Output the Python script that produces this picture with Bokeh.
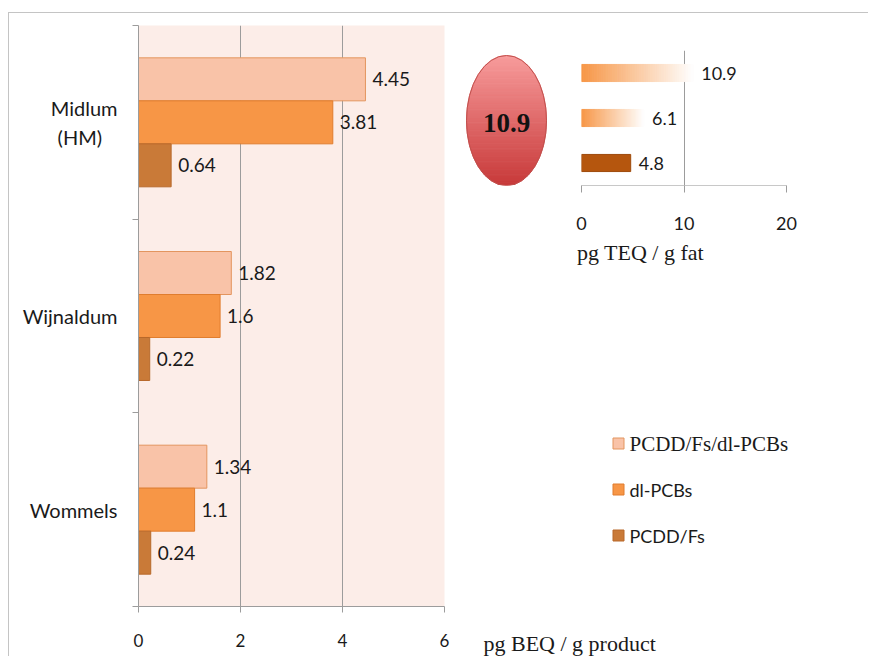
import numpy as np
from bokeh.plotting import figure
from bokeh.models import Range1d, FixedTicker
from bokeh.layouts import row, column
from bokeh.embed import file_html
from bokeh.resources import INLINE
from bokeh.core.properties import value

# ---------------- data ----------------
sites = ["Midlum\n(HM)", "Wijnaldum", "Wommels"]
series = ["PCDD/Fs/dl-PCBs", "dl-PCBs", "PCDD/Fs"]
beq_total = [4.45, 1.82, 1.34]
beq_dlpcb = [3.81, 1.6, 1.1]
beq_pcddf = [0.64, 0.22, 0.24]
main_ticks = [0, 2, 4, 6]

teq_series = ["PCDD/Fs/dl-PCBs", "dl-PCBs", "PCDD/Fs"]
teq_values = [10.9, 6.1, 4.8]
teq_highlight = "10.9"
inset_ticks = [0, 10, 20]

main_axis_label = "pg BEQ / g product"
inset_axis_label = "pg TEQ / g fat"

# ---------------- styles ----------------
SANS = "Lato"
SERIF = "Liberation Serif"
fills = ["#F9C3A8", "#F79646", "#C97A38"]
lines = ["#E3955F", "#E07D2E", "#B8692B"]
GRID = "#9c9c9c"
TXT = "#1a1a1a"


def centered_lines(label):
    # visually centre multi-line category labels (pad the shorter line with no-break spaces)
    parts = label.split("\n")
    if len(parts) == 1:
        return label
    longest = max(len(s) for s in parts)
    return "\n".join(s + "\u00a0" * int(round((longest - len(s)) * 1.6)) for s in parts)


# ---------------- main chart ----------------
p = figure(width=451, height=643, x_range=Range1d(0, 6), y_range=Range1d(0, 3),
           output_backend="svg", toolbar_location=None,
           min_border_left=129, min_border_right=16, min_border_top=12, min_border_bottom=50)
p.background_fill_color = "#FCEDE8"
p.border_fill_color = "white"
p.outline_line_color = None
p.ygrid.visible = False
p.xgrid.ticker = FixedTicker(ticks=main_ticks)
p.xgrid.grid_line_color = GRID
p.xgrid.grid_line_width = 1

p.xaxis.ticker = FixedTicker(ticks=main_ticks)
p.xaxis.axis_line_color = GRID
p.xaxis.major_tick_line_color = GRID
p.xaxis.major_tick_out = 6
p.xaxis.major_tick_in = 0
p.xaxis.minor_tick_line_color = None
p.xaxis.major_label_standoff = 21
p.xaxis.major_label_text_font = SANS
p.xaxis.major_label_text_font_size = "17px"
p.xaxis.major_label_text_color = TXT

n = len(sites)
centers = [n - i - 0.5 for i in range(n)]
bounds = [float(i) for i in range(n + 1)]
p.yaxis.ticker = FixedTicker(ticks=centers, minor_ticks=bounds)
p.yaxis.major_label_overrides = {c: centered_lines(s) for c, s in zip(centers, sites)}
p.yaxis.axis_line_color = GRID
p.yaxis.major_tick_out = 0
p.yaxis.major_tick_in = 0
p.yaxis.minor_tick_out = 6
p.yaxis.minor_tick_in = 0
p.yaxis.minor_tick_line_color = GRID
p.yaxis.major_label_standoff = 15
p.yaxis.major_label_text_font = SANS
p.yaxis.major_label_text_font_size = "20px"
p.yaxis.major_label_text_color = TXT
p.yaxis.major_label_text_align = "center"

bar_h = 0.222
offsets = [bar_h, 0.0, -bar_h]
for vals, off, fc, lc, name in zip([beq_total, beq_dlpcb, beq_pcddf], offsets, fills, lines, series):
    ys = [c + off for c in centers]
    p.hbar(y=ys, left=0, right=vals, height=bar_h, fill_color=fc, line_color=lc, line_width=1)
    p.text(x=vals, y=ys, text=[str(v) for v in vals], x_offset=7, text_baseline="middle",
           text_align="left", text_font=value(SANS), text_font_size="19px", text_color=TXT)

# ---------------- inset chart ----------------
IN_TOP, IN_BOT = 37, 55
q = figure(width=298, height=227, x_range=Range1d(0, 20), y_range=Range1d(0, 3),
           output_backend="svg", toolbar_location=None,
           min_border_left=11, min_border_right=82, min_border_top=IN_TOP, min_border_bottom=IN_BOT)
q.outline_line_color = None
q.yaxis.visible = False
q.ygrid.visible = False
q.xgrid.ticker = FixedTicker(ticks=inset_ticks)
q.xgrid.grid_line_color = GRID
q.xaxis.ticker = FixedTicker(ticks=inset_ticks)
q.xaxis.axis_line_color = "#c8c8c8"
q.xaxis.major_tick_line_color = GRID
q.xaxis.major_tick_out = 7
q.xaxis.major_tick_in = 0
q.xaxis.minor_tick_line_color = None
q.xaxis.major_label_standoff = 24
q.xaxis.major_label_text_font = SANS
q.xaxis.major_label_text_font_size = "18px"
q.xaxis.major_label_text_color = TXT

m = len(teq_values)
icenters = [m - i - 0.5 for i in range(m)]
ibar_h = 0.38
grad_start = np.array([247, 150, 70])
grad_end = np.array([255, 255, 255])
NG = 50
for i, (v, yc) in enumerate(zip(teq_values, icenters)):
    if i < 2:
        lefts = [v * j / NG for j in range(NG)]
        rights = [v * (j + 1) / NG for j in range(NG)]
        gc = []
        for j in range(NG):
            f = (j + 0.5) / NG
            c = (grad_start * (1 - f) + grad_end * f).astype(int)
            gc.append("#%02x%02x%02x" % tuple(c))
        q.hbar(y=[yc] * NG, left=lefts, right=rights, height=ibar_h, fill_color=gc,
               line_color=gc, line_width=1)
    else:
        q.hbar(y=[yc], left=0, right=[v], height=ibar_h, fill_color="#B5560E", line_color="#9E4A0C")
q.text(x=teq_values, y=icenters, text=[str(v) for v in teq_values], x_offset=8,
       text_baseline="middle", text_font=value(SANS), text_font_size="18px", text_color=TXT)

# ---------------- ellipse callout (frame aligned with inset frame) ----------------
e = figure(width=110, height=227, x_range=Range1d(0, 110), y_range=Range1d(135, 0),
           output_backend="svg", toolbar_location=None,
           min_border_left=0, min_border_right=0, min_border_top=IN_TOP, min_border_bottom=IN_BOT)
e.axis.visible = False
e.grid.visible = False
e.outline_line_color = None
ecx, ecy, ea, eb = 46.0, 70.0, 40.0, 65.0
N = 80
top_c = np.array([248, 156, 156])
bot_c = np.array([200, 58, 58])
xs, ys, cols = [], [], []
for k in range(N):
    t0 = -1 + 2 * k / N
    t1 = -1 + 2 * (k + 1) / N
    tt = np.linspace(t0, t1, 6)
    hw = ea * np.sqrt(np.clip(1 - tt ** 2, 0, 1))
    px = list(ecx - hw) + list((ecx + hw)[::-1])
    py = list(ecy + eb * tt) + list((ecy + eb * tt)[::-1])
    xs.append(px)
    ys.append(py)
    f = (k + 0.5) / N
    c = (top_c * (1 - f) + bot_c * f).astype(int)
    cols.append("#%02x%02x%02x" % tuple(c))
e.patches(xs=xs, ys=ys, fill_color=cols, line_color=cols, line_width=1)
e.ellipse(x=[ecx], y=[ecy], width=2 * ea, height=2 * eb, fill_color=None,
          line_color="#C0504D", line_width=1)
e.text(x=[ecx], y=[ecy + 2], text=[teq_highlight], text_align="center", text_baseline="middle",
       text_font=value(SERIF), text_font_style="bold", text_font_size="27px", text_color="#111111")

# ---------------- lower right: axis titles + legend ----------------
g = figure(width=408, height=416, x_range=Range1d(0, 408), y_range=Range1d(416, 0),
           output_backend="svg", toolbar_location=None, min_border=0)
g.axis.visible = False
g.grid.visible = False
g.outline_line_color = None
g.text(x=[180], y=[12], text=[inset_axis_label], text_align="center", text_baseline="middle",
       text_font=value(SERIF), text_font_size="22px", text_color=TXT)
g.text(x=[23], y=[403], text=[main_axis_label], text_align="left", text_baseline="middle",
       text_font=value(SERIF), text_font_size="22px", text_color=TXT)
leg_y = [203, 249, 295]
leg_fonts = [SERIF, SANS, SANS]
leg_sizes = ["21px", "18px", "18px"]
for yy, name, fc, lc, fnt, fs in zip(leg_y, series, fills, lines, leg_fonts, leg_sizes):
    g.rect(x=[158], y=[yy], width=11, height=11, fill_color=fc, line_color=lc, line_width=1)
    g.text(x=[169], y=[yy], text=[name], text_align="left", text_baseline="middle",
           text_font=value(fnt), text_font_size=fs, text_color=TXT)

right_col = column(row(e, q), g)
layout = row(p, right_col,
             styles={"border-top": "1px solid #c4c4c4", "border-left": "1px solid #c4c4c4",
                     "margin-top": "12px", "margin-left": "8px"})

with open("out.html", "w") as fh:
    fh.write(file_html(layout, INLINE))
